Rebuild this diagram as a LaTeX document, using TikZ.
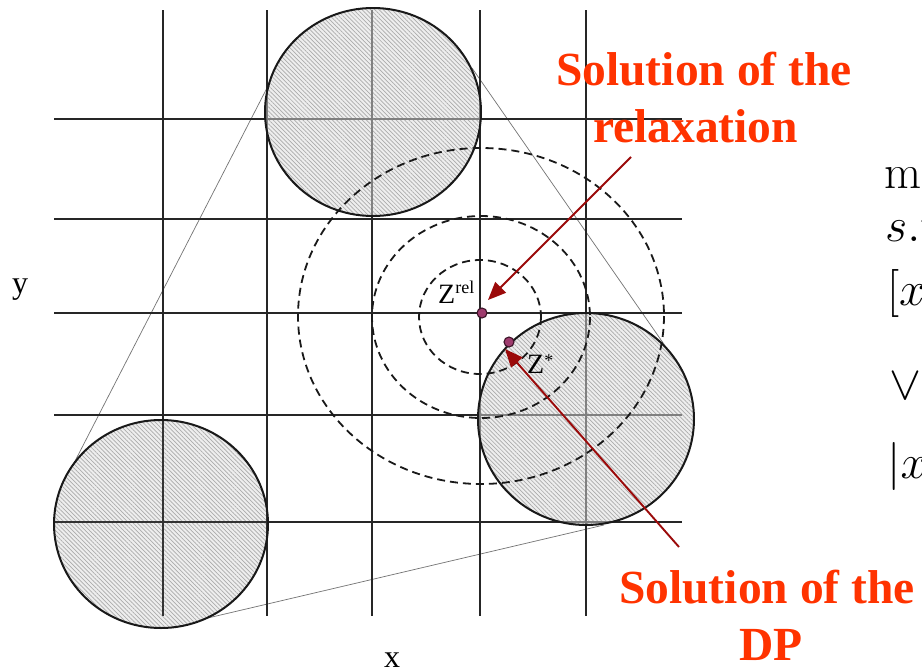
\RequirePackage{fix-cm}
\documentclass[tikz,border=0pt]{standalone}
\usepackage{fontspec}
\newfontfamily\tms{Liberation Serif}
\usetikzlibrary{patterns.meta,arrows.meta}
\definecolor{lblred}{HTML}{FF3300}
\definecolor{arrred}{HTML}{9B0A0A}
\definecolor{dotfill}{HTML}{9E3C6E}
\definecolor{dotline}{HTML}{3C1428}
\definecolor{hatchbg}{HTML}{EEEEEE}
\definecolor{hatchfg}{HTML}{ABABAB}
\begin{document}
\begin{tikzpicture}[x=1pt,y=-1pt,
  gridline/.style={line width=1.8pt,black!85},
  ingrid/.style={line width=1.5pt,black!50},
  ingriddark/.style={line width=1.6pt,black!80},
  hull/.style={line width=0.7pt,black!55},
  rim/.style={line width=2pt,black!90},
  dashline/.style={line width=1.8pt,black!90,dash pattern=on 8pt off 5pt},
  hatch/.style={pattern={Lines[angle=-45,distance=3pt,line width=0.7pt]},pattern color=hatchfg},
  dot/.style={circle,minimum size=10pt,inner sep=0pt,fill=dotfill,draw=dotline,line width=1.1pt},
  arr/.style={line width=1.9pt,arrred,-{Triangle[length=18pt,width=15pt]}},
  redlbl/.style={anchor=base,inner sep=0pt,text=lblred,font=\tms\bfseries\fontsize{47.5}{47.5}\selectfont},
  serlbl/.style={anchor=base west,inner sep=0pt,font=\tms\fontsize{28}{28}\selectfont},
  axlbl/.style={anchor=base west,inner sep=0pt,font=\tms\fontsize{32}{32}\selectfont},
  mathlbl/.style={anchor=base west,inner sep=0pt,font=\fontsize{48}{48}\selectfont}]
\useasboundingbox (0,0) rectangle (922,670);
\fill[white] (0,0) rectangle (922,670);
\clip (0,0) rectangle (922,670);

% hull lines
\coordinate (h1a) at (271.6,79);
\coordinate (h1b) at (73,465);
\coordinate (h2a) at (472,68);
\coordinate (h2b) at (668,350);
\coordinate (h3a) at (195,621);
\coordinate (h3b) at (604,525);
\draw[hull] (h1a) -- (h1b);
\draw[hull] (h2a) -- (h2b);
\draw[hull] (h3a) -- (h3b);

% grid
\foreach \x in {163,267,372,480,586} \draw[gridline] (\x,10) -- (\x,616);
\foreach \y in {119,219,313,415,522} \draw[gridline] (54,\y) -- (682,\y);

% top circle
\fill[hatchbg] (373,112) ellipse [x radius=108, y radius=104];
\fill[hatch] (373,112) ellipse [x radius=108, y radius=104];
\begin{scope}
  \clip (373,112) ellipse [x radius=108, y radius=104];
  \foreach \x in {163,267,372,480,586} \draw[ingrid] (\x,10) -- (\x,616);
  \foreach \y in {119,219,313,415,522} \draw[ingrid] (54,\y) -- (682,\y);
\end{scope}
\draw[rim] (373,112) ellipse [x radius=108, y radius=104];

% bottom-left circle
\fill[hatchbg] (161,524) ellipse [x radius=107, y radius=104];
\fill[hatch] (161,524) ellipse [x radius=107, y radius=104];
\begin{scope}
  \clip (161,524) ellipse [x radius=107, y radius=104];
  \foreach \x in {163,267,372,480,586} \draw[ingriddark] (\x,10) -- (\x,616);
  \foreach \y in {119,219,313,415,522} \draw[ingriddark] (54,\y) -- (682,\y);
\end{scope}
\draw[rim] (161,524) ellipse [x radius=107, y radius=104];

% right circle
\fill[hatchbg] (586,419) ellipse [x radius=108, y radius=106];
\fill[hatch] (586,419) ellipse [x radius=108, y radius=106];
\begin{scope}
  \clip (586,419) ellipse [x radius=108, y radius=106];
  \foreach \x in {163,267,372,480,586} \draw[ingrid] (\x,10) -- (\x,616);
  \foreach \y in {119,219,313,415,522} \draw[ingrid] (54,\y) -- (682,\y);
\end{scope}
\draw[rim] (586,419) ellipse [x radius=108, y radius=106];

% dashed level curves
\draw[dashline] (480,317) ellipse [x radius=61, y radius=57];
\draw[dashline] (481,317) ellipse [x radius=109, y radius=101];
\draw[dashline] (481,316) ellipse [x radius=183, y radius=168];

% points
\node[dot] (zrel) at (482,313) {};
\node[dot] (zstar) at (509,342) {};

% labels of points
\node[serlbl] (zrellbl) at (438,303) {Z\raisebox{10pt}{\fontsize{18}{18}\selectfont rel}};
\node[serlbl] (zstarlbl) at (527,373) {Z\raisebox{7pt}{\fontsize{18}{18}\selectfont *}};

% arrows
\coordinate (a1s) at (631,157);
\coordinate (a1e) at (488,300);
\coordinate (a2s) at (679,547);
\coordinate (a2e) at (505,349);
\draw[arr] (a1s) -- (a1e);
\draw[arr] (a2s) -- (a2e);

% red labels
\node[redlbl] (rel1) at (704,85) {Solution of the};
\node[redlbl] (rel2) at (695.5,142) {relaxation};
\node[redlbl] (dp1) at (767,603) {Solution of the};
\node[redlbl] (dp2) at (771,660) {DP};

% axis labels
\node[axlbl] (ylbl) at (12,293) {y};
\node[axlbl] (xlbl) at (384,667) {x};

% cut-off formula at right edge
\node[mathlbl] (f1) at (884.5,188) {m};
\node[mathlbl] (f2) at (885,241) {$s.t$};
\node[mathlbl] (f3) at (887,305) {$[x$};
\node[mathlbl] (f4) at (889,399) {$\vee$};
\node[mathlbl] (f5) at (887,478) {$|x$};
\end{tikzpicture}
\end{document}
